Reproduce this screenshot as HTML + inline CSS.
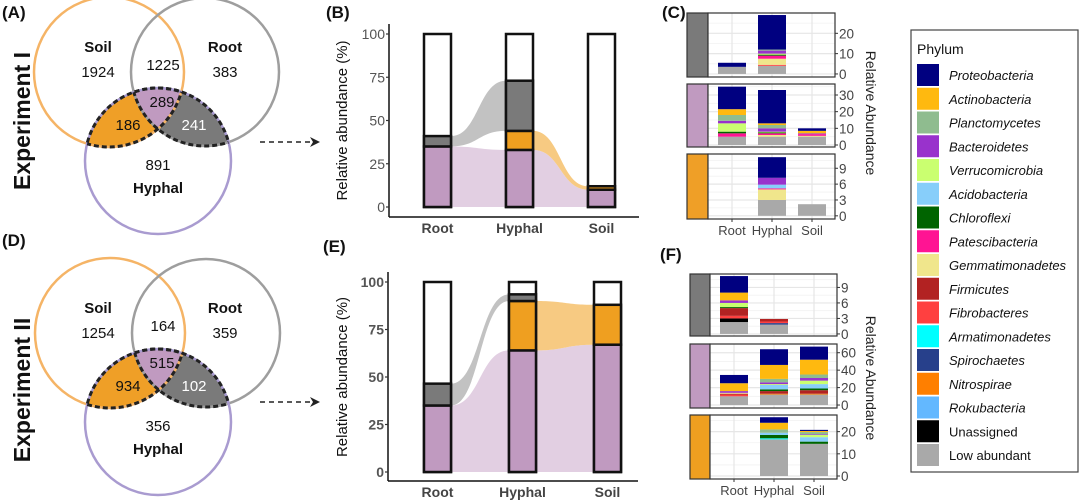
<!DOCTYPE html>
<html><head><meta charset="utf-8"><style>
html,body{margin:0;padding:0;background:#fff;}
svg{display:block;font-family:"Liberation Sans",Arial,sans-serif;}
</style></head><body>
<svg id="fig" width="1080" height="503" viewBox="0 0 1080 503" xmlns="http://www.w3.org/2000/svg">
<defs>
 <clipPath id="cS1"><circle cx="109" cy="72" r="75"/></clipPath>
 <clipPath id="cR1"><circle cx="205" cy="72" r="74"/></clipPath>
 <clipPath id="cH1"><circle cx="158" cy="161" r="73"/></clipPath>
 <clipPath id="cS2"><circle cx="110" cy="333" r="75"/></clipPath>
 <clipPath id="cR2"><circle cx="206" cy="333" r="74"/></clipPath>
 <clipPath id="cH2"><circle cx="158" cy="422" r="73"/></clipPath>
 <marker id="arr" markerWidth="10" markerHeight="10" refX="8" refY="5" orient="auto" markerUnits="userSpaceOnUse"><path d="M0,0 L10,5 L0,10 L3,5 Z" fill="#222"/></marker>
</defs>
<g id="venns"></g>
<g id="main"></g>
<g id="facets"></g>
<g id="legend"></g>
</svg>
<script>
const NS="http://www.w3.org/2000/svg";
function mk(tag,attrs,parent,txt){const e=document.createElementNS(NS,tag);for(const k in attrs)e.setAttribute(k,attrs[k]);if(txt!==undefined)e.textContent=txt;parent.appendChild(e);return e;}
const svg=document.getElementById('fig');

// ---------- DATA ----------
const vennI=[1924,1225,383,186,289,241,891];
const vennII=[1254,164,359,934,515,102,356];

const barCats=["Root","Hyphal","Soil"];
const bPurple=[35,33,10];
const bOrange=[0,11,2];
const bGrey=[6,29,0];
const ePurple=[35,64,67];
const eOrange=[0,26,21];
const eGrey=[11.5,3.5,0];
const mainTicks=[0,25,50,75,100];

const phyla=["Proteobacteria","Actinobacteria","Planctomycetes","Bacteroidetes","Verrucomicrobia","Acidobacteria","Chloroflexi","Patescibacteria","Gemmatimonadetes","Firmicutes","Fibrobacteres","Armatimonadetes","Spirochaetes","Nitrospirae","Rokubacteria","Unassigned","Low abundant"];
const phylaColors=["#000080","#FFB90F","#8FBC8F","#9932CC","#CAFF70","#87CEFA","#006400","#FF1493","#F0E68C","#B22222","#FF4040","#00FFFF","#27408B","#FF7F00","#63B8FF","#000000","#A9A9A9"];
const c1Root=[2,0,0,0,0,0,0,0,0,0,0,0,0,0,0,0,3.5];
const c1Hyphal=[17,0,0.5,1.5,0.5,0,0.5,1.5,3,0,0.5,0,0,0,0,0,4];
const c1Soil=[0,0,0,0,0,0,0,0,0,0,0,0,0,0,0,0,0];
const c2Root=[13.5,3.5,3.5,1.5,5,0,1,2,0,0,0,0,0,0,0,0,5];
const c2Hyphal=[20,1,2,2,0.5,0,0.5,1,1,0,0,0,0,0,0,0,5];
const c2Soil=[1.5,1.5,0,0.5,0,0,0,1,0.5,0,0,0,0,0,0,0,5];
const c3Root=[0,0,0,0,0,0,0,0,0,0,0,0,0,0,0,0,0];
const c3Hyphal=[3.9,0,0,1.3,0,0.7,0,0.2,2,0,0,0,0,0,0,0,3];
const c3Soil=[0,0,0,0,0,0,0,0,0,0,0,0,0,0,0,0,2.2];
const f1Root=[3.2,1.5,0,0.5,0.8,0,0.2,0,0,1.5,0.5,0,0,0,0,0.7,2.3];
const f1Hyphal=[0,0,0,0,0,0,0,0,0,0.5,0.3,0,0.3,0,0,0,1.8];
const f1Soil=[0,0,0,0,0,0,0,0,0,0,0,0,0,0,0,0,0];
const f2Root=[9.5,9,0,2,0,0,0,0,1,1,2,0,0,0,0,0,10];
const f2Hyphal=[18,16,4,2,1,5,2,0,0,3,0,0,0,1,0,0,12];
const f2Soil=[15,17,4,3,4,5,2,0,0,4,0,0,0,1,0,0,12];
const f3Root=[0,0,0,0,0,0,0,0,0,0,0,0,0,0,0,0,0];
const f3Hyphal=[2.5,3,1.5,0,0,1,1.5,0,0,0,0,0.5,0,0,0,0,16.5];
const f3Soil=[0.5,0.5,1,0.3,1,2,1,0,0,0,0,0,0,0,0,0,14.5];
const c1Ticks=[0,10,20], c2Ticks=[0,10,20,30], c3Ticks=[0,3,6,9];
const f1Ticks=[0,3,6,9], f2Ticks=[0,20,40,60], f3Ticks=[0,10,20];

// ---------- LABELS ----------
const g0=svg;
[["(A)",2,18],["(B)",326,18],["(C)",662,18],["(D)",2,246],["(E)",323,252],["(F)",660,260]].forEach(([t,x,y])=>{
 const e=mk('text',{x:x,y:y,'font-size':17,'font-weight':'bold',fill:'#111'},g0,t);
 
 
});
[["Experiment I",121],["Experiment II",390]].forEach(([t,cy],i)=>{
 const e=mk('text',{x:0,y:0,transform:`translate(30,${cy}) rotate(-90)`,'text-anchor':'middle','font-size':23,'font-weight':'bold',fill:'#111'},g0,t);
 
 
});

// ---------- VENN ----------
function venn(g,dy,vals,id){
 const S={cx:109+(id==2?1:0),cy:72+dy}, R={cx:205+(id==2?1:0),cy:72+dy}, H={cx:158,cy:161+dy};
 const gg=mk('g',{},g);  
 const o=mk('g',{'clip-path':`url(#cS${id})`},gg); const o2=mk('g',{'clip-path':`url(#cH${id})`},o);
 mk('rect',{x:0,y:dy,width:330,height:260,fill:'#ef9f27'},o2);
 const gr=mk('g',{'clip-path':`url(#cR${id})`},gg); const gr2=mk('g',{'clip-path':`url(#cH${id})`},gr);
 mk('rect',{x:0,y:dy,width:330,height:260,fill:'#7a7a7a'},gr2);
 const p=mk('g',{'clip-path':`url(#cS${id})`},gr2);
 mk('rect',{x:0,y:dy,width:330,height:260,fill:'#c09ac0'},p);
 mk('circle',{cx:S.cx,cy:S.cy,r:75,fill:'none',stroke:'#f5b466','stroke-width':2.5},gg);
 mk('circle',{cx:R.cx,cy:R.cy,r:74,fill:'none',stroke:'#9e9e9e','stroke-width':2.5},gg);
 mk('circle',{cx:H.cx,cy:H.cy,r:73,fill:'none',stroke:'#a99bd0','stroke-width':2.5},gg);
 const d1=mk('g',{'clip-path':`url(#cH${id})`},gg);
 mk('circle',{cx:S.cx,cy:S.cy,r:75,fill:'none',stroke:'#222','stroke-width':3,'stroke-dasharray':'5,3'},d1);
 mk('circle',{cx:R.cx,cy:R.cy,r:74,fill:'none',stroke:'#222','stroke-width':3,'stroke-dasharray':'5,3'},d1);
 const d2=mk('g',{'clip-path':`url(#cS${id})`},gg);
 mk('circle',{cx:H.cx,cy:H.cy,r:73,fill:'none',stroke:'#222','stroke-width':3,'stroke-dasharray':'5,3'},d2);
 const d3=mk('g',{'clip-path':`url(#cR${id})`},gg);
 mk('circle',{cx:H.cx,cy:H.cy,r:73,fill:'none',stroke:'#222','stroke-width':3,'stroke-dasharray':'5,3'},d3);
 const t=(x,y,s,b,c)=>{const e=mk('text',{x:x,y:y+dy,'text-anchor':'middle','font-size':15,'font-weight':b?'bold':'normal',fill:c||'#111'},gg,s);};
 t(98,52,'Soil',true); t(98,77,vals[0]); t(163,70,vals[1]); t(225,52,'Root',true); t(225,77,vals[2]);
 t(128,130,vals[3]); t(162,107,vals[4]); t(194,130,vals[5],false,'#fff'); t(158,170,vals[6]); t(158,193,'Hyphal',true);
}
const vg=document.getElementById('venns');
venn(vg,0,vennI,1); venn(vg,261,vennII,2);
[[142],[402]].forEach(([y],i)=>{const l=mk('line',{x1:260,y1:y,x2:318,y2:y,stroke:'#222','stroke-width':1.5,'stroke-dasharray':'5,4','marker-end':'url(#arr)'},vg);});

// ---------- MAIN STACKED BARS WITH FLOWS ----------
function mainChart(cfg){
 const g=mk('g',{},document.getElementById('main'));
  
 const y=v=>cfg.y0-(cfg.y0-cfg.y100)*v/100;
 const bw=27;
 const bx=i=>cfg.xs[i];
 const layers=[[cfg.purple,'#c09ac0','#e2cfe2'],[cfg.orange,'#ef9f20','#f7ca82'],[cfg.grey,'#7a7a7a','#c2c2c2']];
 const stacks=barCats.map((c,i)=>{let acc=0;return layers.map(L=>{const b=acc;acc+=L[0][i];return [b,acc];});});
 layers.forEach((L,li)=>{
  for(let i=0;i<barCats.length-1;i++){
   if(L[0][i]>0&&L[0][i+1]>0){
    const x1=bx(i)+bw,x2=bx(i+1),xm=(x1+x2)/2;
    const a=stacks[i][li],b=stacks[i+1][li];
    const d=`M${x1},${y(a[1])} C${xm},${y(a[1])} ${xm},${y(b[1])} ${x2},${y(b[1])} L${x2},${y(b[0])} C${xm},${y(b[0])} ${xm},${y(a[0])} ${x1},${y(a[0])} Z`;
    const p=mk('path',{d:d,fill:L[2]},g);
    
    
   }
  }
 });
 barCats.forEach((c,i)=>{
  const r=mk('rect',{x:bx(i),y:y(100),width:bw,height:y(0)-y(100),fill:'#fff',stroke:'#111','stroke-width':2.5},g);
  
  
  layers.forEach((L,li)=>{
   const s=stacks[i][li]; if(s[1]-s[0]<=0)return;
   const rr=mk('rect',{x:bx(i),y:y(s[1]),width:bw,height:y(s[0])-y(s[1]),fill:L[1],stroke:'#111','stroke-width':2.5},g);
   
   
  });
  const t=mk('text',{x:bx(i)+bw/2,y:cfg.xAxisY+16,'text-anchor':'middle','font-size':14,'font-weight':'bold',fill:'#444'},g,c);
  
  
 });
 mk('line',{x1:cfg.axX,y1:cfg.y100-10,x2:cfg.axX,y2:cfg.xAxisY,stroke:'#111','stroke-width':1.5},g);
 mk('line',{x1:cfg.axX,y1:cfg.xAxisY,x2:cfg.axX+250,y2:cfg.xAxisY,stroke:'#111','stroke-width':1.5},g);
 mainTicks.forEach(v=>{
  mk('line',{x1:cfg.axX-3,y1:y(v),x2:cfg.axX,y2:y(v),stroke:'#333','stroke-width':1.2},g);
  const t=mk('text',{x:cfg.axX-4,y:y(v)+5,'text-anchor':'end','font-size':14,'font-weight':cfg.bold?'bold':'normal',fill:'#555'},g,v);
  
  
 });
 const yt=mk('text',{transform:`translate(347,${(cfg.y0+cfg.y100)/2}) rotate(-90)`,'text-anchor':'middle','font-size':15,fill:'#111'},g,'Relative abundance (%)');
 
 
}
mainChart({name:'chart-b',purple:bPurple,orange:bOrange,grey:bGrey,y0:207,y100:34,xs:[424,506,588],axX:389,xAxisY:217,bold:false});
mainChart({name:'chart-e',purple:ePurple,orange:eOrange,grey:eGrey,y0:472,y100:282,xs:[424,509,594],axX:388,xAxisY:481,bold:true});

// ---------- FACETS ----------
function facet(cfg){
 const g=mk('g',{},document.getElementById('facets'));
  
 const y=v=>cfg.bot-(v-cfg.dmin)/(cfg.dmax-cfg.dmin)*(cfg.bot-cfg.top);
 const strip=mk('rect',{x:cfg.sx,y:cfg.top,width:cfg.px-cfg.sx,height:cfg.bot-cfg.top,fill:cfg.strip,stroke:'#333','stroke-width':1.2},g);
 
 
 mk('rect',{x:cfg.px,y:cfg.top,width:cfg.pr-cfg.px,height:cfg.bot-cfg.top,fill:'#fff'},g);
 cfg.ticks.forEach((v,k)=>{
  mk('line',{x1:cfg.px,y1:y(v),x2:cfg.pr,y2:y(v),stroke:'#e6e6e6','stroke-width':1.2},g);
  const step=cfg.ticks[1]-cfg.ticks[0];
  const m=v+step/2; if(y(m)>cfg.top) mk('line',{x1:cfg.px,y1:y(m),x2:cfg.pr,y2:y(m),stroke:'#f2f2f2','stroke-width':0.8},g);
 });
 cfg.xs.forEach(x=>mk('line',{x1:x+14,y1:cfg.top,x2:x+14,y2:cfg.bot,stroke:'#e6e6e6','stroke-width':1.2},g));
 cfg.bars.forEach((vals,i)=>{
  let acc=0;
  for(let k=vals.length-1;k>=0;k--){
   const v=vals[k]; if(v<=0)continue;
   const r=mk('rect',{x:cfg.xs[i],y:y(acc+v),width:28,height:y(acc)-y(acc+v),fill:phylaColors[k]},g);
   
   
   acc+=v;
  }
 });
 mk('rect',{x:cfg.px,y:cfg.top,width:cfg.pr-cfg.px,height:cfg.bot-cfg.top,fill:'none',stroke:'#333','stroke-width':1.2},g);
 cfg.ticks.forEach(v=>{
  mk('line',{x1:cfg.pr,y1:y(v),x2:cfg.pr+3,y2:y(v),stroke:'#333','stroke-width':1},g);
  const t=mk('text',{x:cfg.pr+4,y:y(v)+5,'font-size':13.5,fill:'#444'},g,v);
  
  
 });
 if(cfg.xlab){
  cfg.xs.forEach((x,i)=>{
   mk('line',{x1:x+14,y1:cfg.bot,x2:x+14,y2:cfg.bot+3,stroke:'#333','stroke-width':1},g);
   const t=mk('text',{x:x+14,y:cfg.bot+16,'text-anchor':'middle','font-size':13,fill:'#444'},g,barCats[i]);
   
   
  });
 }
}
const cX=[718,758,798], fX=[720,760,800];
facet({name:'facet-c-grey',sx:687,px:708,pr:835,top:13,bot:77,dmin:-1.5,dmax:30,ticks:c1Ticks,strip:'#7a7a7a',xs:cX,bars:[c1Root,c1Hyphal,c1Soil]});
facet({name:'facet-c-purple',sx:687,px:708,pr:835,top:84,bot:147,dmin:-1.2,dmax:36.6,ticks:c2Ticks,strip:'#c09ac0',xs:cX,bars:[c2Root,c2Hyphal,c2Soil]});
facet({name:'facet-c-orange',sx:687,px:708,pr:835,top:154,bot:219,dmin:-0.6,dmax:11.7,ticks:c3Ticks,strip:'#ef9f27',xs:cX,bars:[c3Root,c3Hyphal,c3Soil],xlab:true});
facet({name:'facet-f-grey',sx:690,px:710,pr:837,top:274,bot:336,dmin:-0.4,dmax:11.6,ticks:f1Ticks,strip:'#7a7a7a',xs:fX,bars:[f1Root,f1Hyphal,f1Soil]});
facet({name:'facet-f-purple',sx:690,px:710,pr:837,top:344,bot:408,dmin:-3.4,dmax:70,ticks:f2Ticks,strip:'#c09ac0',xs:fX,bars:[f2Root,f2Hyphal,f2Soil]});
facet({name:'facet-f-orange',sx:690,px:710,pr:837,top:415,bot:479,dmin:-1.35,dmax:27.5,ticks:f3Ticks,strip:'#ef9f20',xs:fX,bars:[f3Root,f3Hyphal,f3Soil],xlab:true});
[[113],[378]].forEach(([cy],i)=>{
 const t=mk('text',{transform:`translate(866,${cy}) rotate(90)`,'text-anchor':'middle','font-size':14,fill:'#222'},svg,'Relative Abundance');
 
 
});

// ---------- LEGEND ----------
const lg=document.getElementById('legend');
 
mk('rect',{x:911,y:30,width:167,height:442,fill:'#fff',stroke:'#444','stroke-width':1.2},lg);
mk('text',{x:917,y:54,'font-size':14,fill:'#111'},lg,'Phylum');
phyla.forEach((p,k)=>{
 const yy=64+k*23.75;
 const e=mk('g',{},lg);
 
 
 mk('rect',{x:917,y:yy,width:22,height:22,fill:phylaColors[k]},e);
 mk('text',{x:949,y:yy+16,'font-size':13,'font-style':k<15?'italic':'normal',fill:'#111'},e,p);
});
</script>
</body></html>
